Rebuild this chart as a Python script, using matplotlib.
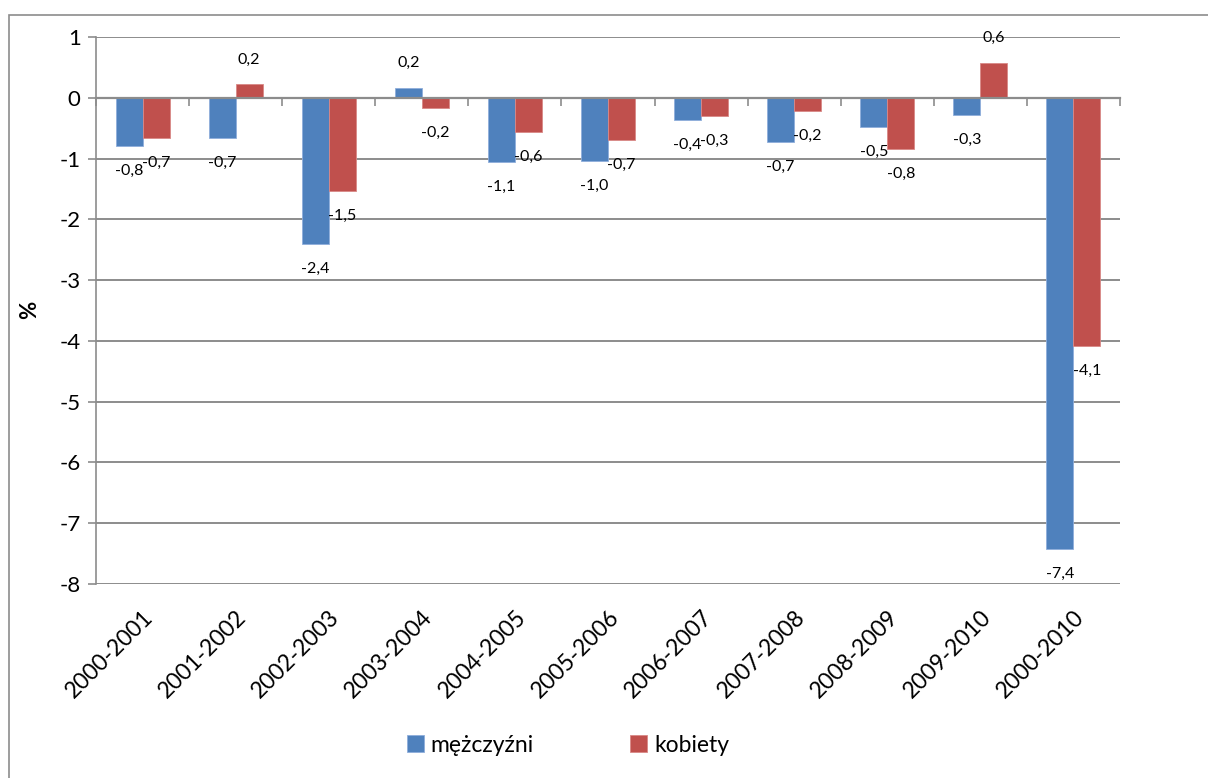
import numpy as np
import matplotlib
matplotlib.use('Agg')
import matplotlib.pyplot as plt
from matplotlib.patches import Rectangle

plt.rcParams['font.family'] = ['Lato', 'DejaVu Sans']
plt.rcParams['axes.unicode_minus'] = False

# data
okresy = ['2000-2001', '2001-2002', '2002-2003', '2003-2004', '2004-2005',
          '2005-2006', '2006-2007', '2007-2008', '2008-2009', '2009-2010',
          '2000-2010']
mezczyzni = [-0.79, -0.66, -2.40, 0.16, -1.06, -1.04, -0.36, -0.72, -0.48, -0.28, -7.43]
kobiety = [-0.66, 0.22, -1.53, -0.16, -0.56, -0.69, -0.30, -0.21, -0.84, 0.57, -4.09]

blue = '#4F81BD'
red = '#C0504D'
grid_col = '#8C8C8C'

fig = plt.figure(figsize=(12.08, 7.78), dpi=100)
ax = fig.add_axes([96 / 1208, 1 - 584 / 778, (1120 - 96) / 1208, (584 - 37) / 778])

# outer chart border
fig.patches.append(Rectangle((9 / 1208, -0.1), 1.2, 1.1 - 15 / 778,
                             transform=fig.transFigure, fill=False,
                             edgecolor='#8C8C8C', linewidth=1.2))

x = np.arange(len(okresy))
w = 0.29
b1 = ax.bar(x - w / 2, mezczyzni, w, color=blue, edgecolor='#8FAEDB', linewidth=0.6,
            label='mężczyźni', zorder=3)
b2 = ax.bar(x + w / 2, kobiety, w, color=red, edgecolor='#D98886', linewidth=0.6,
            label='kobiety', zorder=3)

def fmt(v):
    return f'{v:.1f}'.replace('.', ',')

for bars, vals in ((b1, mezczyzni), (b2, kobiety)):
    for rect, v in zip(bars, vals):
        cx = rect.get_x() + rect.get_width() / 2
        off = 18 if v > 0 else -18
        ax.annotate(fmt(v), (cx, v), xytext=(0, off), textcoords='offset points',
                    ha='center', va='center', fontsize=11.5, color='black', zorder=4)

ax.set_xlim(-0.5, len(okresy) - 0.5)
ax.set_ylim(-8, 1)
ax.set_yticks(np.arange(-8, 2, 1))
ax.yaxis.grid(True, color=grid_col, linewidth=1.4)
ax.set_axisbelow(True)
ax.tick_params(axis='y', length=6, width=1.2, color=grid_col, pad=5, labelsize=16)

for s in ('top', 'right'):
    ax.spines[s].set_visible(False)
ax.spines['left'].set_color(grid_col)
ax.spines['left'].set_linewidth(1.2)
ax.spines['bottom'].set_position(('data', 0))
ax.spines['bottom'].set_color(grid_col)
ax.spines['bottom'].set_linewidth(1.6)
ax.spines['bottom'].set_zorder(5)

# category boundary ticks on the zero line
ax.set_xticks(np.arange(-0.5, len(okresy), 1))
ax.set_xticklabels([])
ax.tick_params(axis='x', length=6, width=1.2, color=grid_col, direction='out')

# category labels at the bottom
sec = ax.secondary_xaxis(0)
sec.set_xticks(x)
sec.set_xticklabels(okresy, rotation=45, ha='right', rotation_mode='anchor', fontsize=16.5)
sec.tick_params(length=0, pad=16)
sec.spines['bottom'].set_visible(False)

ax.set_ylabel('%', fontsize=16, fontweight='bold', va='center')
ax.yaxis.set_label_coords((30 - 96) / 1024, (584 - 310) / 547)

fig.legend(handles=[b1, b2], labels=['mężczyźni', 'kobiety'], loc='center',
           bbox_to_anchor=(568 / 1208, 1 - 745 / 778), ncol=2, frameon=False,
           fontsize=16.5, handlelength=0.75, handleheight=0.75, handletextpad=0.3,
           columnspacing=4.2)

fig.savefig('out.png', dpi=100)
